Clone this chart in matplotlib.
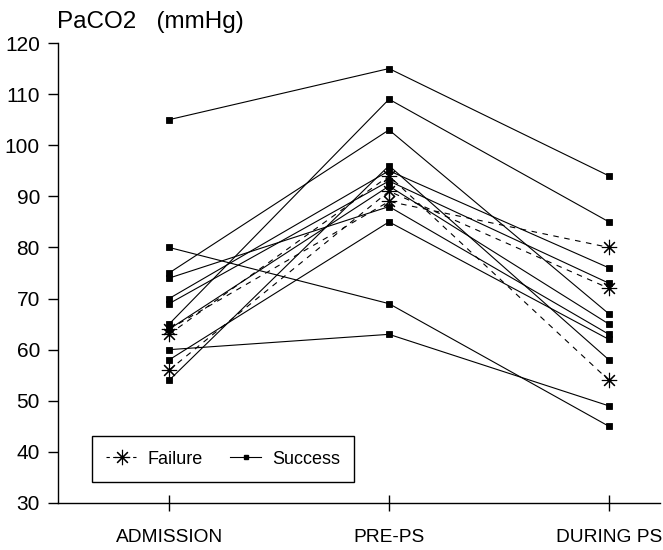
import matplotlib
matplotlib.use("Agg")
import matplotlib.pyplot as plt
from matplotlib.lines import Line2D

# Data (PaCO2 in mmHg) at three time points
phases = ["ADMISSION", "PRE-PS", "DURING PS"]

success_admission = [105, 80, 75, 74, 70, 69, 65, 64, 60, 58, 54]
success_pre_ps    = [115, 69, 103, 88, 95, 93, 109, 92, 63, 85, 96]
success_during_ps = [94, 45, 67, 63, 76, 73, 85, 65, 49, 62, 58]

failure_admission = [64, 63, 56]
failure_pre_ps    = [89, 94, 91]
failure_during_ps = [80, 54, 72]

y_ticks = [30, 40, 50, 60, 70, 80, 90, 100, 110, 120]

plt.rcParams['font.family'] = ['Liberation Sans', 'DejaVu Sans']

fig = plt.figure(figsize=(6.63, 5.50), dpi=100)
ax = fig.add_axes([58/663, 1 - 503/550, 602/663, 460/550])

x = list(range(len(phases)))
star = (8, 2, 0)

for a, p, d in zip(success_admission, success_pre_ps, success_during_ps):
    ax.plot(x, [a, p, d], color='black', lw=0.8, marker='s', markersize=3.8,
            markerfacecolor='black', markeredgecolor='black', markeredgewidth=0.6)

for a, p, d in zip(failure_admission, failure_pre_ps, failure_during_ps):
    ax.plot(x, [a, p, d], color='black', lw=0.8, linestyle=(0, (5, 5)),
            marker=star, markersize=11, markeredgewidth=0.8)

ax.set_xlim(-0.505, 2.232)
ax.set_ylim(30, 120)
ax.set_xticks(x)
ax.set_xticklabels(phases, fontsize=13.8)
ax.set_yticks(y_ticks)
ax.set_yticklabels([str(t) for t in y_ticks], fontsize=15)

for s in ['top', 'right']:
    ax.spines[s].set_visible(False)
for s in ['left', 'bottom']:
    ax.spines[s].set_linewidth(1.0)

ax.tick_params(axis='y', direction='out', length=7, width=1, pad=6)
ax.tick_params(axis='x', direction='inout', length=11, width=1, pad=13)

fig.text(57/663, 1 - 22/550, "PaCO2   (mmHg)", fontsize=17.5, va='center', ha='left')

handles = [
    Line2D([], [], color='black', lw=0.8, linestyle=(0, (3, 3)), marker=star,
           markersize=11, markeredgewidth=0.8),
    Line2D([], [], color='black', lw=0.8, marker='s', markersize=3.5),
]
leg = ax.legend(handles, ["Failure", "Success"], ncol=2, loc='lower left',
                bbox_to_anchor=(0.0565, 0.0457), borderaxespad=0,
                fancybox=False, edgecolor='black', framealpha=1,
                fontsize=13, handlelength=1.7, columnspacing=1.5,
                borderpad=0.8, handletextpad=0.6)
leg.get_frame().set_linewidth(1.0)

fig.savefig("out.png", dpi=100)
